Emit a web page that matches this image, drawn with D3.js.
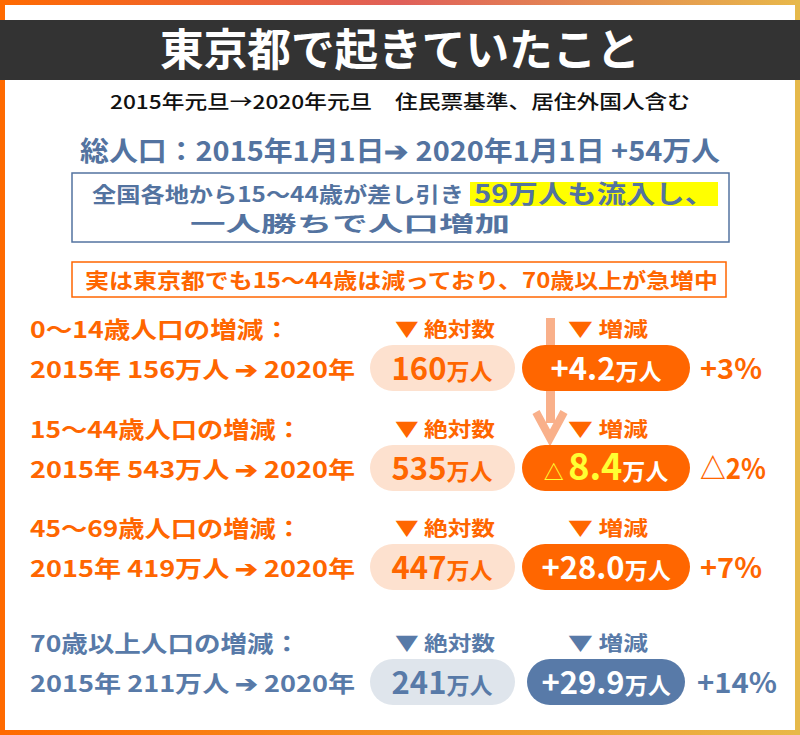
<!DOCTYPE html>
<html><head><meta charset="utf-8">
<script src="https://cdn.jsdelivr.net/npm/d3@7"></script>
<style>body{margin:0}svg{display:block;font-family:"Noto Sans CJK JP",sans-serif;font-weight:700}</style>
</head><body><svg id="c" width="800" height="735"></svg>
<script>
const groups = ["0～14歳", "15～44歳", "45～69歳", "70歳以上"];
const pop2015 = [156, 543, 419, 211];
const pop2020 = [160, 535, 447, 241];
const changes = ["+4.2", "△8.4", "+28.0", "+29.9"];
const pcts = ["+3%", "△2%", "+7%", "+14%"];
const rowY = [368, 468, 567, 682];

const svg = d3.select("#c");
const defs = svg.append("defs");
const g1 = defs.append("linearGradient").attr("id","top").attr("x1","0").attr("x2","1");
g1.append("stop").attr("offset","0").attr("stop-color","#ff6a00");
g1.append("stop").attr("offset","0.5").attr("stop-color","#e0605a");
g1.append("stop").attr("offset","1").attr("stop-color","#e8b84a");
const g2 = defs.append("linearGradient").attr("id","bot").attr("x1","0").attr("x2","1");
g2.append("stop").attr("offset","0").attr("stop-color","#ff6a00");
g2.append("stop").attr("offset","1").attr("stop-color","#e8b84a");

function txt(x,y,size,fill,s,w,anchor){
  const t = svg.append("text").attr("x",x).attr("y",y).attr("font-size",size).attr("fill",fill)
    .attr("text-anchor",anchor||"start").text(s);
  if(w) t.attr("textLength",w).attr("lengthAdjust","spacingAndGlyphs");
  return t;
}

svg.append("rect").attr("width",800).attr("height",735).attr("fill","#fff");
svg.append("rect").attr("width",800).attr("height",5).attr("fill","url(#top)");
svg.append("rect").attr("y",730).attr("width",800).attr("height",5).attr("fill","url(#bot)");
svg.append("rect").attr("width",5).attr("height",735).attr("fill","#ff6a00");
svg.append("rect").attr("x",795).attr("width",5).attr("height",735).attr("fill","#e6b94a");
svg.append("rect").attr("y",20).attr("width",800).attr("height",60).attr("fill","#333");
txt(160,66,44,"#fff","東京都で起きていたこと",480);
txt(110,109,19,"#111","2015年元旦→2020年元旦　住民票基準、居住外国人含む",580).attr("font-weight",500);
txt(80,161,27,"#5373a0","総人口：2015年1月1日➔ 2020年1月1日 +54万人",640);

svg.append("rect").attr("x",72).attr("y",173).attr("width",657).attr("height",69)
  .attr("fill","none").attr("stroke","#5373a0").attr("stroke-width",1.5);
svg.append("rect").attr("x",470).attr("y",182).attr("width",248).attr("height",24).attr("fill","#ffff00");
txt(92,202,21,"#5373a0","全国各地から15～44歳が差し引き",372);
txt(474,203,25,"#5373a0","59万人も流入し、",240);
txt(190,231,21,"#5373a0","一人勝ちで人口増加",320);

svg.append("rect").attr("x",72).attr("y",262).attr("width",654).attr("height",35)
  .attr("fill","none").attr("stroke","#ff6600").attr("stroke-width",1.5);
txt(85,288,21,"#ff6600","実は東京都でも15～44歳は減っており、70歳以上が急増中",633);

// arrow
svg.append("rect").attr("x",546).attr("y",318).attr("width",9).attr("height",105).attr("fill","#f9b08a");
svg.append("path").attr("d","M536,412 L550,438 L564,412").attr("fill","none").attr("stroke","#f9b08a").attr("stroke-width",8);

const absX = d3.scaleLinear().domain([0,1]).range([370,515]);
groups.forEach((gname,i)=>{
  const y = rowY[i];
  const blue = i===3;
  const main = blue ? "#587aa8" : "#ff6600";
  const light = blue ? "#dfe5ec" : "#fde1cf";
  txt(30,y-30,23,main,gname+"人口の増減：",i===3?270:(i===0?260:272));
  txt(30,y+10,23,main,"2015年 "+pop2015[i]+"万人 ➔ "+"2020年",325);
  txt(395,y-31,20,main,"▼ 絶対数",100);
  txt(568,y-31,20,main,"▼ 増減",80);
  svg.append("rect").attr("x",absX(0)).attr("y",y-23).attr("width",absX(1)-absX(0)).attr("height",46).attr("rx",23).attr("fill",light);
  svg.append("text").attr("x",442).attr("y",y+12).attr("text-anchor","middle").attr("fill",main).attr("font-size",31)
    .html(pop2020[i]+'<tspan font-size="23">万人</tspan>');
  const cx0 = blue?527:522, cx1 = blue?685:690;
  svg.append("rect").attr("x",cx0).attr("y",y-23).attr("width",cx1-cx0).attr("height",46).attr("rx",23).attr("fill",main);
  const neg = changes[i].startsWith("△");
  const t = svg.append("text").attr("x",(cx0+cx1)/2).attr("y",y+12).attr("text-anchor","middle").attr("fill","#fff").attr("font-size",31);
  if(neg){
    t.html('<tspan fill="#ffff33" font-size="20">△ </tspan><tspan fill="#ffff33" font-size="36">'+changes[i].slice(1)+'</tspan><tspan font-size="23">万人</tspan>');
  } else {
    t.html(changes[i]+'<tspan font-size="23">万人</tspan>');
  }
  txt(blue?697:700,y+11,28,main,pcts[i],blue?80:(neg?66:62));
});
</script></body></html>
